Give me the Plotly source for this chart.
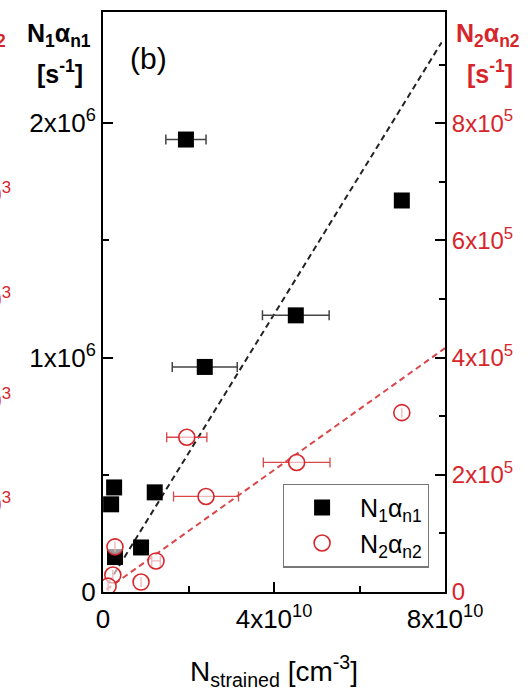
import plotly.graph_objects as go

# ---- data -------------------------------------------------------------
# N1*alpha_n1 (left axis, s^-1) versus strained-site density (cm^-3)
n1_x = [1.94e10, 6.99e10, 4.51e10, 2.38e10, 1.21e10, 0.26e10, 0.19e10, 0.89e10, 0.28e10]
n1_y = [1.93e6, 1.67e6, 1.18e6, 0.96e6, 0.425e6, 0.446e6, 0.374e6, 0.19e6, 0.149e6]
n1_xerr = [0.47e10, 0, 0.78e10, 0.76e10, 0.1e10, 0, 0, 0, 0]

# N2*alpha_n2 (right axis, s^-1)
n2_x = [1.96e10, 6.99e10, 4.53e10, 2.41e10, 1.24e10, 0.28e10, 0.23e10, 0.89e10, 0.12e10]
n2_y = [2.64e5, 3.06e5, 2.21e5, 1.63e5, 0.53e5, 0.77e5, 0.29e5, 0.17e5, 0.10e5]
n2_xerr = [0.47e10, 0, 0.78e10, 0.76e10, 0.1e10, 0, 0, 0, 0]

# linear fits through the origin
fit1_slope = 2.96e-5
fit1_x = [0.13e10, 7.92e10]
fit2_slope = 5.2e-6
fit2_x = [0.08e10, 8.0e10]

x_ticks = [0, 4e10, 8e10]
x_ticktext = ["0", "4x10<sup>10</sup>", "8x10<sup>10</sup>"]
x_minor = [2e10, 6e10]
y1_ticks = [0, 1e6, 2e6]
y1_ticktext = ["0", "1x10<sup>6</sup>", "2x10<sup>6</sup>"]
y1_minor = [0.5e6, 1.5e6]
y2_ticks = [0, 2e5, 4e5, 6e5, 8e5]
y2_ticktext = ["0", "2x10<sup>5</sup>", "4x10<sup>5</sup>", "6x10<sup>5</sup>", "8x10<sup>5</sup>"]
y2_minor = [1e5, 3e5, 5e5, 7e5, 9e5]

RED = "#d7262b"
FONT = "Liberation Sans, Arial, sans-serif"

y1_max = 2.474e6
y2_max = 0.4 * y1_max

fig = go.Figure()

fig.add_trace(go.Scatter(
    x=fit1_x, y=[fit1_slope * v for v in fit1_x], mode="lines",
    line=dict(color="#222", width=2, dash="6px,4px"), showlegend=False,
    hoverinfo="skip"))

fig.add_trace(go.Scatter(
    x=n1_x, y=n1_y, mode="markers", name="N<sub>1</sub>α<sub>n1</sub>",
    marker=dict(symbol="square", size=16, color="black"),
    error_x=dict(type="data", array=n1_xerr, color="#444", thickness=1.5, width=5),
))

fig.add_trace(go.Scatter(
    x=fit2_x, y=[fit2_slope * v for v in fit2_x], mode="lines", yaxis="y2",
    line=dict(color="#d9474b", width=2, dash="6px,4px"), showlegend=False,
    hoverinfo="skip"))

fig.add_trace(go.Scatter(
    x=n2_x, y=n2_y, mode="markers", yaxis="y2", name="N<sub>2</sub>α<sub>n2</sub>",
    marker=dict(symbol="circle", size=16, color="rgba(255,255,255,0.6)",
                line=dict(color=RED, width=1.6)),
    error_x=dict(type="data", array=n2_xerr, color="#d9474b", thickness=1.3, width=5),
))

axis_common = dict(showgrid=False, zeroline=False, showline=True, linecolor="black",
                   linewidth=2, ticks="inside", ticklen=10, tickwidth=2, tickcolor="black")

fig.update_layout(
    width=528, height=692,
    margin=dict(l=103, r=83, t=10, b=100),
    paper_bgcolor="white", plot_bgcolor="white",
    font=dict(family=FONT, color="black"),
    xaxis=dict(range=[0, 8e10], tickmode="array", tickvals=x_ticks, ticktext=x_ticktext,
               mirror=True, tickfont=dict(size=26), ticklabelstandoff=3,
               minor=dict(tickmode="array", tickvals=x_minor, ticks="inside",
                          ticklen=6, tickwidth=2, tickcolor="black"),
               title=dict(text="N<sub>strained</sub> [cm<sup>-3</sup>]",
                          font=dict(size=28), standoff=28),
               **axis_common),
    yaxis=dict(range=[0, y1_max], tickmode="array", tickvals=y1_ticks, ticktext=y1_ticktext,
               tickfont=dict(size=26),
               minor=dict(tickmode="array", tickvals=y1_minor, ticks="inside",
                          ticklen=6, tickwidth=2, tickcolor="black"),
               **axis_common),
    yaxis2=dict(range=[0, y2_max], overlaying="y", side="right", anchor="x",
                tickmode="array", tickvals=y2_ticks, ticktext=y2_ticktext,
                tickfont=dict(size=24, color=RED),
                minor=dict(tickmode="array", tickvals=y2_minor, ticks="inside",
                           ticklen=6, tickwidth=2, tickcolor="black"),
                **axis_common),
    legend=dict(x=0.526, y=0.187, xanchor="left", yanchor="top",
                bgcolor="white", bordercolor="#777", borderwidth=1.2,
                font=dict(size=25), itemwidth=66),
    showlegend=True,
)

W0, W = 103, 342
H0, H = 592, 582


def px(x):
    return (x - W0) / W


def py(y):
    return (H0 - y) / H


def label(text, x, y, size, color="black", xanchor="center"):
    fig.add_annotation(text=text, x=px(x), y=py(y), xref="paper", yref="paper",
                       xanchor=xanchor, yanchor="middle", showarrow=False,
                       font=dict(size=size, color=color, family=FONT))


label("(b)", 148, 57, 30)
label("<b>N<sub>1</sub>α<sub>n1</sub></b>", 59, 33, 25)
label("<b>[s<sup>-1</sup>]</b>", 60, 70, 25)
label("<b>N<sub>2</sub>α<sub>n2</sub></b>", 488, 33, 25, RED)
label("<b>[s<sup>-1</sup>]</b>", 490, 70, 25, RED)

# edge of the neighbouring panel's right-hand labels
label("<b>α<sub>n2</sub></b>", 8, 33, 25, RED, xanchor="right")
label("<b>[s<sup>-1</sup>]</b>", 3, 70, 25, RED, xanchor="right")
for yy in [192, 297, 398, 503]:
    label("10<sup>3</sup>", 13, yy, 24, RED, xanchor="right")

fig.write_html("out.html")
